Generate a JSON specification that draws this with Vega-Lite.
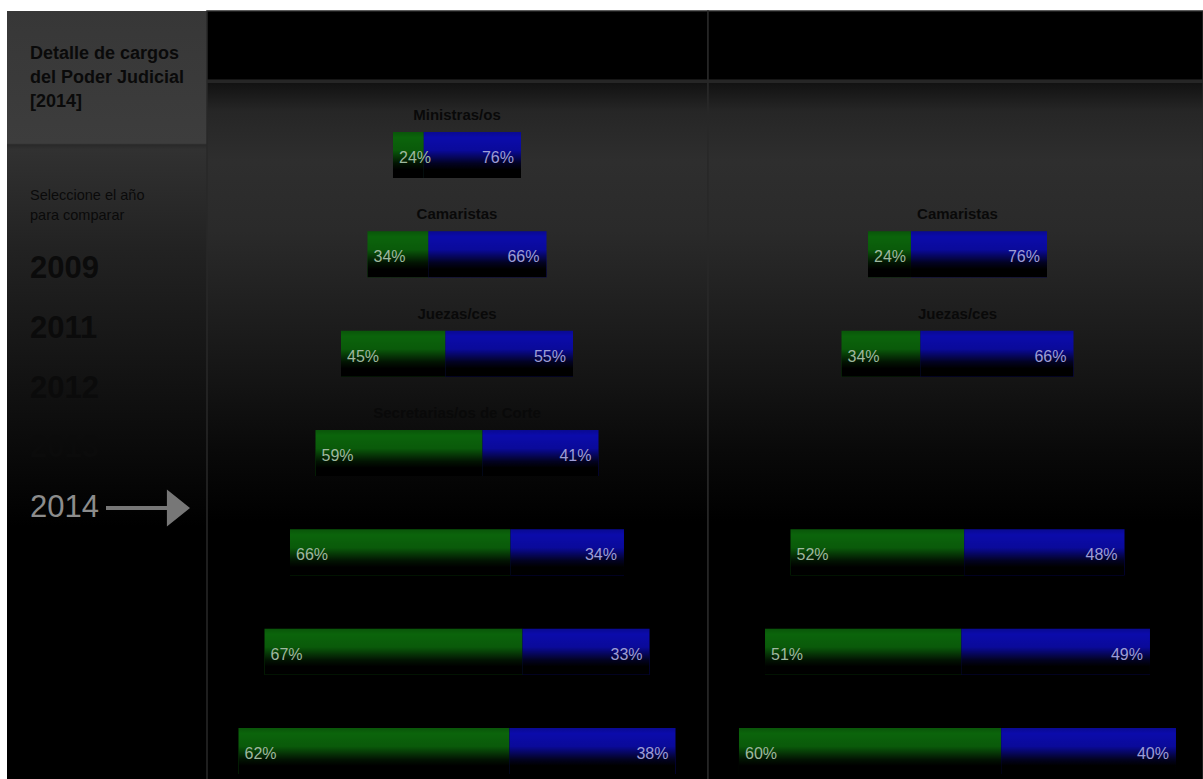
{
  "$schema": "https://vega.github.io/schema/vega-lite/v6.json",
  "background": "#ffffff",
  "padding": {"left": 7, "top": 10, "right": 0, "bottom": 0},
  "spacing": 0,
  "bounds": "flush",
  "config": {"font": "Liberation Sans, Arial, sans-serif"},
  "datasets": {
    "izq": [
      {"nivel": 1, "cargo": "Ministras/os", "sexo": "Mujeres", "pct": 0.24}, {"nivel": 1, "cargo": "Ministras/os", "sexo": "Varones", "pct": 0.76},
      {"nivel": 2, "cargo": "Camaristas", "sexo": "Mujeres", "pct": 0.34}, {"nivel": 2, "cargo": "Camaristas", "sexo": "Varones", "pct": 0.66},
      {"nivel": 3, "cargo": "Juezas/ces", "sexo": "Mujeres", "pct": 0.45}, {"nivel": 3, "cargo": "Juezas/ces", "sexo": "Varones", "pct": 0.55},
      {"nivel": 4, "cargo": "Secretarias/os de Corte", "sexo": "Mujeres", "pct": 0.59}, {"nivel": 4, "cargo": "Secretarias/os de Corte", "sexo": "Varones", "pct": 0.41},
      {"nivel": 5, "cargo": "", "sexo": "Mujeres", "pct": 0.66}, {"nivel": 5, "cargo": "", "sexo": "Varones", "pct": 0.34},
      {"nivel": 6, "cargo": "", "sexo": "Mujeres", "pct": 0.67}, {"nivel": 6, "cargo": "", "sexo": "Varones", "pct": 0.33},
      {"nivel": 7, "cargo": "", "sexo": "Mujeres", "pct": 0.62}, {"nivel": 7, "cargo": "", "sexo": "Varones", "pct": 0.38}
    ],
    "der": [
      {"nivel": 2, "cargo": "Camaristas", "sexo": "Mujeres", "pct": 0.24}, {"nivel": 2, "cargo": "Camaristas", "sexo": "Varones", "pct": 0.76},
      {"nivel": 3, "cargo": "Juezas/ces", "sexo": "Mujeres", "pct": 0.34}, {"nivel": 3, "cargo": "Juezas/ces", "sexo": "Varones", "pct": 0.66},
      {"nivel": 5, "cargo": "", "sexo": "Mujeres", "pct": 0.52}, {"nivel": 5, "cargo": "", "sexo": "Varones", "pct": 0.48},
      {"nivel": 6, "cargo": "", "sexo": "Mujeres", "pct": 0.51}, {"nivel": 6, "cargo": "", "sexo": "Varones", "pct": 0.49},
      {"nivel": 7, "cargo": "", "sexo": "Mujeres", "pct": 0.60}, {"nivel": 7, "cargo": "", "sexo": "Varones", "pct": 0.40}
    ],
    "anios": [
      {"anio": "2009", "estado": "disponible"},
      {"anio": "2011", "estado": "disponible"},
      {"anio": "2012", "estado": "disponible"},
      {"anio": "2013", "estado": "disponible"},
      {"anio": "2014", "estado": "seleccionado"}
    ]
  },
  "hconcat": [
    {
      "width": 200,
      "height": 769,
      "view": {"stroke": null, "fill": {"gradient": "linear", "x1": 0, "y1": 0, "x2": 0, "y2": 1, "stops": [
        {"offset": 0, "color": "#373737"}, {"offset": 0.172, "color": "#3d3d3d"}, {"offset": 0.174, "color": "#292929"}, {"offset": 0.18, "color": "#313131"},
        {"offset": 0.31, "color": "#222222"}, {"offset": 0.44, "color": "#161616"}, {"offset": 0.57, "color": "#0a0a0a"}, {"offset": 0.67, "color": "#000000"}, {"offset": 1, "color": "#000000"}]}},
      "title": {
        "text": ["Detalle de cargos", "del Poder Judicial", "[2014]"],
        "subtitle": ["Seleccione el año", "para comparar"],
        "anchor": "start", "frame": "group", "orient": "top", "offset": -211, "dx": 23,
        "font": "Liberation Sans, Arial, sans-serif", "fontSize": 18, "fontWeight": "bold", "color": "#0a0a0a", "lineHeight": 24,
        "subtitleFont": "Liberation Sans, Arial, sans-serif", "subtitleFontSize": 14.5, "subtitleColor": "#0a0a0a", "subtitlePadding": 78, "subtitleLineHeight": 20
      },
      "data": {"name": "anios"},
      "encoding": {
        "y": {"field": "anio", "type": "ordinal", "scale": {"type": "point", "padding": 0, "range": [258, 497]}, "axis": null}
      },
      "layer": [
        {"transform": [{"filter": "datum.estado == 'disponible'"}],
         "mark": {"type": "text", "align": "left", "baseline": "middle", "fontSize": 31, "fontWeight": "bold", "fill": "#0b0b0b"},
         "encoding": {"x": {"datum": 23, "type": "quantitative", "scale": {"domain": [0, 200], "nice": false, "zero": false}, "axis": null}, "text": {"field": "anio", "type": "nominal"}}},
        {"transform": [{"filter": "datum.estado == 'seleccionado'"}],
         "mark": {"type": "text", "align": "left", "baseline": "middle", "fontSize": 31, "fill": "#8c8c8c"},
         "encoding": {"x": {"datum": 23, "type": "quantitative"}, "text": {"field": "anio", "type": "nominal"}}},
        {"transform": [{"filter": "datum.estado == 'seleccionado'"}],
         "mark": {"type": "point", "filled": true, "opacity": 1, "strokeWidth": 0, "shape": "M-1,-0.045L0.45,-0.045L0.45,-0.44L1,0L0.45,0.44L0.45,0.045L-1,0.045Z", "size": 7056, "color": "#777777"},
         "encoding": {"x": {"datum": 141, "type": "quantitative"}}}
      ]
    },
    {
      "width": 501,
      "height": 769,
      "view": {"stroke": "#282828", "strokeWidth": 1.5, "fill": {"gradient": "linear", "x1": 0, "y1": 0, "x2": 0, "y2": 1, "stops": [
        {"offset": 0, "color": "#000000"}, {"offset": 0.0885, "color": "#000000"}, {"offset": 0.0895, "color": "#262626"}, {"offset": 0.093, "color": "#262626"}, {"offset": 0.094, "color": "#121212"},
        {"offset": 0.13, "color": "#262626"}, {"offset": 0.195, "color": "#2e2e2e"}, {"offset": 0.286, "color": "#2a2a2a"}, {"offset": 0.377, "color": "#202020"},
        {"offset": 0.481, "color": "#141414"}, {"offset": 0.572, "color": "#090909"}, {"offset": 0.663, "color": "#000000"}, {"offset": 1, "color": "#000000"}]}},
      "data": {"name": "izq"},
      "encoding": {"y": {"field": "nivel", "type": "ordinal", "scale": {"domain": [1, 2, 3, 4, 5, 6, 7], "paddingInner": 0.5369, "paddingOuter": 0.6394, "align": 0.9526}, "axis": null}},
      "resolve": {"scale": {"x": "independent"}},
      "layer": [
        {"transform": [{"filter": "datum.nivel == 1"}], "layer": [
          {"mark": {"type": "bar"}, "encoding": {"x": {"field": "pct", "type": "quantitative", "scale": {"domain": [-1.4531, 2.4609], "nice": false, "zero": false}, "axis": null}, "color": {"field": "sexo", "type": "nominal", "scale": {"domain": ["Mujeres", "Varones"], "range": ["#0b640b", "#0b0bab"]}, "legend": null}}},
          {"mark": {"type": "bar", "fill": {"gradient": "linear", "x1": 0, "y1": 0, "x2": 0, "y2": 1, "stops": [{"offset": 0, "color": "rgba(0,0,0,0.15)"}, {"offset": 0.12, "color": "rgba(0,0,0,0)"}, {"offset": 0.4, "color": "rgba(0,0,0,0.1)"}, {"offset": 0.68, "color": "rgba(0,0,0,0.8)"}, {"offset": 0.82, "color": "rgba(0,0,0,1)"}, {"offset": 1, "color": "rgba(0,0,0,1)"}]}}, "encoding": {"x": {"field": "pct", "type": "quantitative"}, "detail": {"field": "sexo", "type": "nominal"}}},
          {"transform": [{"filter": "datum.sexo == 'Mujeres'"}], "mark": {"type": "text", "align": "left", "baseline": "middle", "dx": 6, "dy": 3, "fontSize": 16, "fill": "#9fb89f"}, "encoding": {"x": {"datum": 0, "type": "quantitative"}, "text": {"field": "pct", "type": "quantitative", "format": ".0%"}}},
          {"transform": [{"filter": "datum.sexo == 'Varones'"}], "mark": {"type": "text", "align": "right", "baseline": "middle", "dx": -7, "dy": 3, "fontSize": 16, "fill": "#9d9dd6"}, "encoding": {"x": {"datum": 1, "type": "quantitative"}, "text": {"field": "pct", "type": "quantitative", "format": ".0%"}}},
          {"transform": [{"filter": "datum.sexo == 'Mujeres'"}], "mark": {"type": "text", "align": "center", "baseline": "middle", "dy": -40, "fontSize": 15, "fontWeight": "bold", "fill": "#090909"}, "encoding": {"x": {"datum": 0.5, "type": "quantitative"}, "text": {"field": "cargo", "type": "nominal"}}}
        ]},
        {"transform": [{"filter": "datum.nivel == 2"}], "layer": [
          {"mark": {"type": "bar"}, "encoding": {"x": {"field": "pct", "type": "quantitative", "scale": {"domain": [-0.8966, 1.9022], "nice": false, "zero": false}, "axis": null}, "color": {"field": "sexo", "type": "nominal", "scale": {"domain": ["Mujeres", "Varones"], "range": ["#0b640b", "#0b0bab"]}, "legend": null}}},
          {"mark": {"type": "bar", "fill": {"gradient": "linear", "x1": 0, "y1": 0, "x2": 0, "y2": 1, "stops": [{"offset": 0, "color": "rgba(0,0,0,0.15)"}, {"offset": 0.12, "color": "rgba(0,0,0,0)"}, {"offset": 0.4, "color": "rgba(0,0,0,0.1)"}, {"offset": 0.68, "color": "rgba(0,0,0,0.8)"}, {"offset": 0.82, "color": "rgba(0,0,0,1)"}, {"offset": 1, "color": "rgba(0,0,0,1)"}]}}, "encoding": {"x": {"field": "pct", "type": "quantitative"}, "detail": {"field": "sexo", "type": "nominal"}}},
          {"transform": [{"filter": "datum.sexo == 'Mujeres'"}], "mark": {"type": "text", "align": "left", "baseline": "middle", "dx": 6, "dy": 3, "fontSize": 16, "fill": "#9fb89f"}, "encoding": {"x": {"datum": 0, "type": "quantitative"}, "text": {"field": "pct", "type": "quantitative", "format": ".0%"}}},
          {"transform": [{"filter": "datum.sexo == 'Varones'"}], "mark": {"type": "text", "align": "right", "baseline": "middle", "dx": -7, "dy": 3, "fontSize": 16, "fill": "#9d9dd6"}, "encoding": {"x": {"datum": 1, "type": "quantitative"}, "text": {"field": "pct", "type": "quantitative", "format": ".0%"}}},
          {"transform": [{"filter": "datum.sexo == 'Mujeres'"}], "mark": {"type": "text", "align": "center", "baseline": "middle", "dy": -40, "fontSize": 15, "fontWeight": "bold", "fill": "#090909"}, "encoding": {"x": {"datum": 0.5, "type": "quantitative"}, "text": {"field": "cargo", "type": "nominal"}}}
        ]},
        {"transform": [{"filter": "datum.nivel == 3"}], "layer": [
          {"mark": {"type": "bar"}, "encoding": {"x": {"field": "pct", "type": "quantitative", "scale": {"domain": [-0.5776, 1.5819], "nice": false, "zero": false}, "axis": null}, "color": {"field": "sexo", "type": "nominal", "scale": {"domain": ["Mujeres", "Varones"], "range": ["#0b640b", "#0b0bab"]}, "legend": null}}},
          {"mark": {"type": "bar", "fill": {"gradient": "linear", "x1": 0, "y1": 0, "x2": 0, "y2": 1, "stops": [{"offset": 0, "color": "rgba(0,0,0,0.15)"}, {"offset": 0.12, "color": "rgba(0,0,0,0)"}, {"offset": 0.4, "color": "rgba(0,0,0,0.1)"}, {"offset": 0.68, "color": "rgba(0,0,0,0.8)"}, {"offset": 0.82, "color": "rgba(0,0,0,1)"}, {"offset": 1, "color": "rgba(0,0,0,1)"}]}}, "encoding": {"x": {"field": "pct", "type": "quantitative"}, "detail": {"field": "sexo", "type": "nominal"}}},
          {"transform": [{"filter": "datum.sexo == 'Mujeres'"}], "mark": {"type": "text", "align": "left", "baseline": "middle", "dx": 6, "dy": 3, "fontSize": 16, "fill": "#9fb89f"}, "encoding": {"x": {"datum": 0, "type": "quantitative"}, "text": {"field": "pct", "type": "quantitative", "format": ".0%"}}},
          {"transform": [{"filter": "datum.sexo == 'Varones'"}], "mark": {"type": "text", "align": "right", "baseline": "middle", "dx": -7, "dy": 3, "fontSize": 16, "fill": "#9d9dd6"}, "encoding": {"x": {"datum": 1, "type": "quantitative"}, "text": {"field": "pct", "type": "quantitative", "format": ".0%"}}},
          {"transform": [{"filter": "datum.sexo == 'Mujeres'"}], "mark": {"type": "text", "align": "center", "baseline": "middle", "dy": -40, "fontSize": 15, "fontWeight": "bold", "fill": "#090909"}, "encoding": {"x": {"datum": 0.5, "type": "quantitative"}, "text": {"field": "cargo", "type": "nominal"}}}
        ]},
        {"transform": [{"filter": "datum.nivel == 4"}], "layer": [
          {"mark": {"type": "bar"}, "encoding": {"x": {"field": "pct", "type": "quantitative", "scale": {"domain": [-0.3834, 1.3869], "nice": false, "zero": false}, "axis": null}, "color": {"field": "sexo", "type": "nominal", "scale": {"domain": ["Mujeres", "Varones"], "range": ["#0b640b", "#0b0bab"]}, "legend": null}}},
          {"mark": {"type": "bar", "fill": {"gradient": "linear", "x1": 0, "y1": 0, "x2": 0, "y2": 1, "stops": [{"offset": 0, "color": "rgba(0,0,0,0.15)"}, {"offset": 0.12, "color": "rgba(0,0,0,0)"}, {"offset": 0.4, "color": "rgba(0,0,0,0.1)"}, {"offset": 0.68, "color": "rgba(0,0,0,0.8)"}, {"offset": 0.82, "color": "rgba(0,0,0,1)"}, {"offset": 1, "color": "rgba(0,0,0,1)"}]}}, "encoding": {"x": {"field": "pct", "type": "quantitative"}, "detail": {"field": "sexo", "type": "nominal"}}},
          {"transform": [{"filter": "datum.sexo == 'Mujeres'"}], "mark": {"type": "text", "align": "left", "baseline": "middle", "dx": 6, "dy": 3, "fontSize": 16, "fill": "#9fb89f"}, "encoding": {"x": {"datum": 0, "type": "quantitative"}, "text": {"field": "pct", "type": "quantitative", "format": ".0%"}}},
          {"transform": [{"filter": "datum.sexo == 'Varones'"}], "mark": {"type": "text", "align": "right", "baseline": "middle", "dx": -7, "dy": 3, "fontSize": 16, "fill": "#9d9dd6"}, "encoding": {"x": {"datum": 1, "type": "quantitative"}, "text": {"field": "pct", "type": "quantitative", "format": ".0%"}}},
          {"transform": [{"filter": "datum.sexo == 'Mujeres'"}], "mark": {"type": "text", "align": "center", "baseline": "middle", "dy": -40, "fontSize": 15, "fontWeight": "bold", "fill": "#090909"}, "encoding": {"x": {"datum": 0.5, "type": "quantitative"}, "text": {"field": "cargo", "type": "nominal"}}}
        ]},
        {"transform": [{"filter": "datum.nivel == 5"}], "layer": [
          {"mark": {"type": "bar"}, "encoding": {"x": {"field": "pct", "type": "quantitative", "scale": {"domain": [-0.2485, 1.2515], "nice": false, "zero": false}, "axis": null}, "color": {"field": "sexo", "type": "nominal", "scale": {"domain": ["Mujeres", "Varones"], "range": ["#0b640b", "#0b0bab"]}, "legend": null}}},
          {"mark": {"type": "bar", "fill": {"gradient": "linear", "x1": 0, "y1": 0, "x2": 0, "y2": 1, "stops": [{"offset": 0, "color": "rgba(0,0,0,0.15)"}, {"offset": 0.12, "color": "rgba(0,0,0,0)"}, {"offset": 0.4, "color": "rgba(0,0,0,0.1)"}, {"offset": 0.68, "color": "rgba(0,0,0,0.8)"}, {"offset": 0.82, "color": "rgba(0,0,0,1)"}, {"offset": 1, "color": "rgba(0,0,0,1)"}]}}, "encoding": {"x": {"field": "pct", "type": "quantitative"}, "detail": {"field": "sexo", "type": "nominal"}}},
          {"transform": [{"filter": "datum.sexo == 'Mujeres'"}], "mark": {"type": "text", "align": "left", "baseline": "middle", "dx": 6, "dy": 3, "fontSize": 16, "fill": "#9fb89f"}, "encoding": {"x": {"datum": 0, "type": "quantitative"}, "text": {"field": "pct", "type": "quantitative", "format": ".0%"}}},
          {"transform": [{"filter": "datum.sexo == 'Varones'"}], "mark": {"type": "text", "align": "right", "baseline": "middle", "dx": -7, "dy": 3, "fontSize": 16, "fill": "#9d9dd6"}, "encoding": {"x": {"datum": 1, "type": "quantitative"}, "text": {"field": "pct", "type": "quantitative", "format": ".0%"}}}
        ]},
        {"transform": [{"filter": "datum.nivel == 6"}], "layer": [
          {"mark": {"type": "bar"}, "encoding": {"x": {"field": "pct", "type": "quantitative", "scale": {"domain": [-0.1494, 1.1519], "nice": false, "zero": false}, "axis": null}, "color": {"field": "sexo", "type": "nominal", "scale": {"domain": ["Mujeres", "Varones"], "range": ["#0b640b", "#0b0bab"]}, "legend": null}}},
          {"mark": {"type": "bar", "fill": {"gradient": "linear", "x1": 0, "y1": 0, "x2": 0, "y2": 1, "stops": [{"offset": 0, "color": "rgba(0,0,0,0.15)"}, {"offset": 0.12, "color": "rgba(0,0,0,0)"}, {"offset": 0.4, "color": "rgba(0,0,0,0.1)"}, {"offset": 0.68, "color": "rgba(0,0,0,0.8)"}, {"offset": 0.82, "color": "rgba(0,0,0,1)"}, {"offset": 1, "color": "rgba(0,0,0,1)"}]}}, "encoding": {"x": {"field": "pct", "type": "quantitative"}, "detail": {"field": "sexo", "type": "nominal"}}},
          {"transform": [{"filter": "datum.sexo == 'Mujeres'"}], "mark": {"type": "text", "align": "left", "baseline": "middle", "dx": 6, "dy": 3, "fontSize": 16, "fill": "#9fb89f"}, "encoding": {"x": {"datum": 0, "type": "quantitative"}, "text": {"field": "pct", "type": "quantitative", "format": ".0%"}}},
          {"transform": [{"filter": "datum.sexo == 'Varones'"}], "mark": {"type": "text", "align": "right", "baseline": "middle", "dx": -7, "dy": 3, "fontSize": 16, "fill": "#9d9dd6"}, "encoding": {"x": {"datum": 1, "type": "quantitative"}, "text": {"field": "pct", "type": "quantitative", "format": ".0%"}}}
        ]},
        {"transform": [{"filter": "datum.nivel == 7"}], "layer": [
          {"mark": {"type": "bar"}, "encoding": {"x": {"field": "pct", "type": "quantitative", "scale": {"domain": [-0.0721, 1.0744], "nice": false, "zero": false}, "axis": null}, "color": {"field": "sexo", "type": "nominal", "scale": {"domain": ["Mujeres", "Varones"], "range": ["#0b640b", "#0b0bab"]}, "legend": null}}},
          {"mark": {"type": "bar", "fill": {"gradient": "linear", "x1": 0, "y1": 0, "x2": 0, "y2": 1, "stops": [{"offset": 0, "color": "rgba(0,0,0,0.15)"}, {"offset": 0.12, "color": "rgba(0,0,0,0)"}, {"offset": 0.4, "color": "rgba(0,0,0,0.1)"}, {"offset": 0.68, "color": "rgba(0,0,0,0.8)"}, {"offset": 0.82, "color": "rgba(0,0,0,1)"}, {"offset": 1, "color": "rgba(0,0,0,1)"}]}}, "encoding": {"x": {"field": "pct", "type": "quantitative"}, "detail": {"field": "sexo", "type": "nominal"}}},
          {"transform": [{"filter": "datum.sexo == 'Mujeres'"}], "mark": {"type": "text", "align": "left", "baseline": "middle", "dx": 6, "dy": 3, "fontSize": 16, "fill": "#9fb89f"}, "encoding": {"x": {"datum": 0, "type": "quantitative"}, "text": {"field": "pct", "type": "quantitative", "format": ".0%"}}},
          {"transform": [{"filter": "datum.sexo == 'Varones'"}], "mark": {"type": "text", "align": "right", "baseline": "middle", "dx": -7, "dy": 3, "fontSize": 16, "fill": "#9d9dd6"}, "encoding": {"x": {"datum": 1, "type": "quantitative"}, "text": {"field": "pct", "type": "quantitative", "format": ".0%"}}}
        ]}
      ]
    },
    {
      "width": 495,
      "height": 769,
      "view": {"stroke": "#282828", "strokeWidth": 1.5, "fill": {"gradient": "linear", "x1": 0, "y1": 0, "x2": 0, "y2": 1, "stops": [
        {"offset": 0, "color": "#000000"}, {"offset": 0.0885, "color": "#000000"}, {"offset": 0.0895, "color": "#262626"}, {"offset": 0.093, "color": "#262626"}, {"offset": 0.094, "color": "#121212"},
        {"offset": 0.13, "color": "#262626"}, {"offset": 0.195, "color": "#2e2e2e"}, {"offset": 0.286, "color": "#2a2a2a"}, {"offset": 0.377, "color": "#202020"},
        {"offset": 0.481, "color": "#141414"}, {"offset": 0.572, "color": "#090909"}, {"offset": 0.663, "color": "#000000"}, {"offset": 1, "color": "#000000"}]}},
      "data": {"name": "der"},
      "encoding": {"y": {"field": "nivel", "type": "ordinal", "scale": {"domain": [1, 2, 3, 4, 5, 6, 7], "paddingInner": 0.5369, "paddingOuter": 0.6394, "align": 0.9526}, "axis": null}},
      "resolve": {"scale": {"x": "independent"}},
      "layer": [
        {"transform": [{"filter": "datum.nivel == 2"}], "layer": [
          {"mark": {"type": "bar"}, "encoding": {"x": {"field": "pct", "type": "quantitative", "scale": {"domain": [-0.8939, 1.8715], "nice": false, "zero": false}, "axis": null}, "color": {"field": "sexo", "type": "nominal", "scale": {"domain": ["Mujeres", "Varones"], "range": ["#0b640b", "#0b0bab"]}, "legend": null}}},
          {"mark": {"type": "bar", "fill": {"gradient": "linear", "x1": 0, "y1": 0, "x2": 0, "y2": 1, "stops": [{"offset": 0, "color": "rgba(0,0,0,0.15)"}, {"offset": 0.12, "color": "rgba(0,0,0,0)"}, {"offset": 0.4, "color": "rgba(0,0,0,0.1)"}, {"offset": 0.68, "color": "rgba(0,0,0,0.8)"}, {"offset": 0.82, "color": "rgba(0,0,0,1)"}, {"offset": 1, "color": "rgba(0,0,0,1)"}]}}, "encoding": {"x": {"field": "pct", "type": "quantitative"}, "detail": {"field": "sexo", "type": "nominal"}}},
          {"transform": [{"filter": "datum.sexo == 'Mujeres'"}], "mark": {"type": "text", "align": "left", "baseline": "middle", "dx": 6, "dy": 3, "fontSize": 16, "fill": "#9fb89f"}, "encoding": {"x": {"datum": 0, "type": "quantitative"}, "text": {"field": "pct", "type": "quantitative", "format": ".0%"}}},
          {"transform": [{"filter": "datum.sexo == 'Varones'"}], "mark": {"type": "text", "align": "right", "baseline": "middle", "dx": -7, "dy": 3, "fontSize": 16, "fill": "#9d9dd6"}, "encoding": {"x": {"datum": 1, "type": "quantitative"}, "text": {"field": "pct", "type": "quantitative", "format": ".0%"}}},
          {"transform": [{"filter": "datum.sexo == 'Mujeres'"}], "mark": {"type": "text", "align": "center", "baseline": "middle", "dy": -40, "fontSize": 15, "fontWeight": "bold", "fill": "#090909"}, "encoding": {"x": {"datum": 0.5, "type": "quantitative"}, "text": {"field": "cargo", "type": "nominal"}}}
        ]},
        {"transform": [{"filter": "datum.nivel == 3"}], "layer": [
          {"mark": {"type": "bar"}, "encoding": {"x": {"field": "pct", "type": "quantitative", "scale": {"domain": [-0.5754, 1.5582], "nice": false, "zero": false}, "axis": null}, "color": {"field": "sexo", "type": "nominal", "scale": {"domain": ["Mujeres", "Varones"], "range": ["#0b640b", "#0b0bab"]}, "legend": null}}},
          {"mark": {"type": "bar", "fill": {"gradient": "linear", "x1": 0, "y1": 0, "x2": 0, "y2": 1, "stops": [{"offset": 0, "color": "rgba(0,0,0,0.15)"}, {"offset": 0.12, "color": "rgba(0,0,0,0)"}, {"offset": 0.4, "color": "rgba(0,0,0,0.1)"}, {"offset": 0.68, "color": "rgba(0,0,0,0.8)"}, {"offset": 0.82, "color": "rgba(0,0,0,1)"}, {"offset": 1, "color": "rgba(0,0,0,1)"}]}}, "encoding": {"x": {"field": "pct", "type": "quantitative"}, "detail": {"field": "sexo", "type": "nominal"}}},
          {"transform": [{"filter": "datum.sexo == 'Mujeres'"}], "mark": {"type": "text", "align": "left", "baseline": "middle", "dx": 6, "dy": 3, "fontSize": 16, "fill": "#9fb89f"}, "encoding": {"x": {"datum": 0, "type": "quantitative"}, "text": {"field": "pct", "type": "quantitative", "format": ".0%"}}},
          {"transform": [{"filter": "datum.sexo == 'Varones'"}], "mark": {"type": "text", "align": "right", "baseline": "middle", "dx": -7, "dy": 3, "fontSize": 16, "fill": "#9d9dd6"}, "encoding": {"x": {"datum": 1, "type": "quantitative"}, "text": {"field": "pct", "type": "quantitative", "format": ".0%"}}},
          {"transform": [{"filter": "datum.sexo == 'Mujeres'"}], "mark": {"type": "text", "align": "center", "baseline": "middle", "dy": -40, "fontSize": 15, "fontWeight": "bold", "fill": "#090909"}, "encoding": {"x": {"datum": 0.5, "type": "quantitative"}, "text": {"field": "cargo", "type": "nominal"}}}
        ]},
        {"transform": [{"filter": "datum.nivel == 5"}], "layer": [
          {"mark": {"type": "bar"}, "encoding": {"x": {"field": "pct", "type": "quantitative", "scale": {"domain": [-0.2470, 1.2350], "nice": false, "zero": false}, "axis": null}, "color": {"field": "sexo", "type": "nominal", "scale": {"domain": ["Mujeres", "Varones"], "range": ["#0b640b", "#0b0bab"]}, "legend": null}}},
          {"mark": {"type": "bar", "fill": {"gradient": "linear", "x1": 0, "y1": 0, "x2": 0, "y2": 1, "stops": [{"offset": 0, "color": "rgba(0,0,0,0.15)"}, {"offset": 0.12, "color": "rgba(0,0,0,0)"}, {"offset": 0.4, "color": "rgba(0,0,0,0.1)"}, {"offset": 0.68, "color": "rgba(0,0,0,0.8)"}, {"offset": 0.82, "color": "rgba(0,0,0,1)"}, {"offset": 1, "color": "rgba(0,0,0,1)"}]}}, "encoding": {"x": {"field": "pct", "type": "quantitative"}, "detail": {"field": "sexo", "type": "nominal"}}},
          {"transform": [{"filter": "datum.sexo == 'Mujeres'"}], "mark": {"type": "text", "align": "left", "baseline": "middle", "dx": 6, "dy": 3, "fontSize": 16, "fill": "#9fb89f"}, "encoding": {"x": {"datum": 0, "type": "quantitative"}, "text": {"field": "pct", "type": "quantitative", "format": ".0%"}}},
          {"transform": [{"filter": "datum.sexo == 'Varones'"}], "mark": {"type": "text", "align": "right", "baseline": "middle", "dx": -7, "dy": 3, "fontSize": 16, "fill": "#9d9dd6"}, "encoding": {"x": {"datum": 1, "type": "quantitative"}, "text": {"field": "pct", "type": "quantitative", "format": ".0%"}}}
        ]},
        {"transform": [{"filter": "datum.nivel == 6"}], "layer": [
          {"mark": {"type": "bar"}, "encoding": {"x": {"field": "pct", "type": "quantitative", "scale": {"domain": [-0.1481, 1.1377], "nice": false, "zero": false}, "axis": null}, "color": {"field": "sexo", "type": "nominal", "scale": {"domain": ["Mujeres", "Varones"], "range": ["#0b640b", "#0b0bab"]}, "legend": null}}},
          {"mark": {"type": "bar", "fill": {"gradient": "linear", "x1": 0, "y1": 0, "x2": 0, "y2": 1, "stops": [{"offset": 0, "color": "rgba(0,0,0,0.15)"}, {"offset": 0.12, "color": "rgba(0,0,0,0)"}, {"offset": 0.4, "color": "rgba(0,0,0,0.1)"}, {"offset": 0.68, "color": "rgba(0,0,0,0.8)"}, {"offset": 0.82, "color": "rgba(0,0,0,1)"}, {"offset": 1, "color": "rgba(0,0,0,1)"}]}}, "encoding": {"x": {"field": "pct", "type": "quantitative"}, "detail": {"field": "sexo", "type": "nominal"}}},
          {"transform": [{"filter": "datum.sexo == 'Mujeres'"}], "mark": {"type": "text", "align": "left", "baseline": "middle", "dx": 6, "dy": 3, "fontSize": 16, "fill": "#9fb89f"}, "encoding": {"x": {"datum": 0, "type": "quantitative"}, "text": {"field": "pct", "type": "quantitative", "format": ".0%"}}},
          {"transform": [{"filter": "datum.sexo == 'Varones'"}], "mark": {"type": "text", "align": "right", "baseline": "middle", "dx": -7, "dy": 3, "fontSize": 16, "fill": "#9d9dd6"}, "encoding": {"x": {"datum": 1, "type": "quantitative"}, "text": {"field": "pct", "type": "quantitative", "format": ".0%"}}}
        ]},
        {"transform": [{"filter": "datum.nivel == 7"}], "layer": [
          {"mark": {"type": "bar"}, "encoding": {"x": {"field": "pct", "type": "quantitative", "scale": {"domain": [-0.0709, 1.0618], "nice": false, "zero": false}, "axis": null}, "color": {"field": "sexo", "type": "nominal", "scale": {"domain": ["Mujeres", "Varones"], "range": ["#0b640b", "#0b0bab"]}, "legend": null}}},
          {"mark": {"type": "bar", "fill": {"gradient": "linear", "x1": 0, "y1": 0, "x2": 0, "y2": 1, "stops": [{"offset": 0, "color": "rgba(0,0,0,0.15)"}, {"offset": 0.12, "color": "rgba(0,0,0,0)"}, {"offset": 0.4, "color": "rgba(0,0,0,0.1)"}, {"offset": 0.68, "color": "rgba(0,0,0,0.8)"}, {"offset": 0.82, "color": "rgba(0,0,0,1)"}, {"offset": 1, "color": "rgba(0,0,0,1)"}]}}, "encoding": {"x": {"field": "pct", "type": "quantitative"}, "detail": {"field": "sexo", "type": "nominal"}}},
          {"transform": [{"filter": "datum.sexo == 'Mujeres'"}], "mark": {"type": "text", "align": "left", "baseline": "middle", "dx": 6, "dy": 3, "fontSize": 16, "fill": "#9fb89f"}, "encoding": {"x": {"datum": 0, "type": "quantitative"}, "text": {"field": "pct", "type": "quantitative", "format": ".0%"}}},
          {"transform": [{"filter": "datum.sexo == 'Varones'"}], "mark": {"type": "text", "align": "right", "baseline": "middle", "dx": -7, "dy": 3, "fontSize": 16, "fill": "#9d9dd6"}, "encoding": {"x": {"datum": 1, "type": "quantitative"}, "text": {"field": "pct", "type": "quantitative", "format": ".0%"}}}
        ]}
      ]
    }
  ]
}
